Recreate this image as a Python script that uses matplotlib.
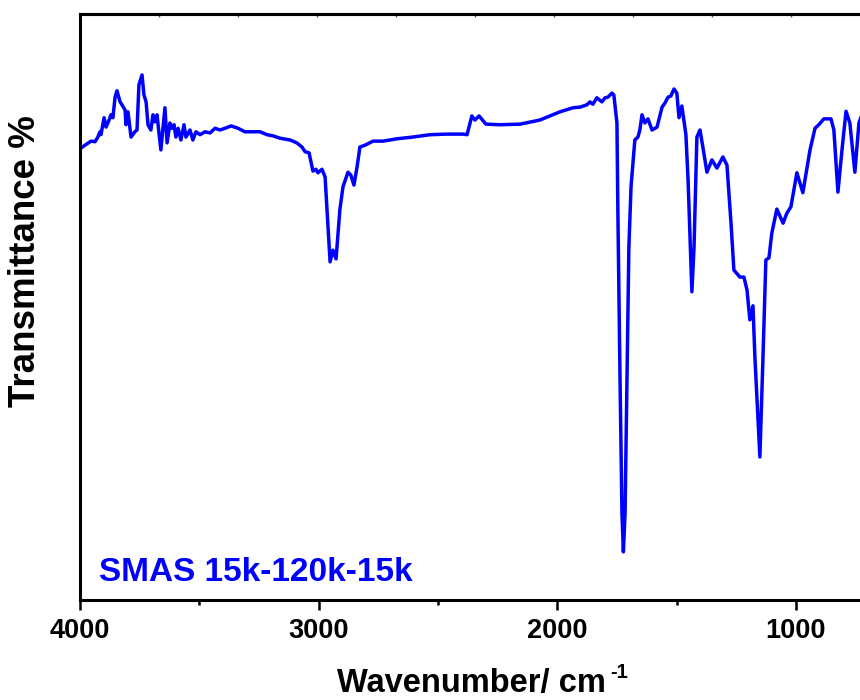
import matplotlib
matplotlib.use("Agg")
import matplotlib.pyplot as plt

plt.rcParams['font.family'] = ['Liberation Sans', 'DejaVu Sans']
plt.rcParams['font.weight'] = 'bold'

# FTIR spectrum (wavenumber in cm-1, transmittance in a.u.)
wavenumber = [
    3997, 3979, 3954, 3937, 3925, 3916, 3912, 3899, 3891, 3878, 3870, 3862, 3853, 3845,
    3832, 3824, 3811, 3807, 3799, 3786, 3770, 3761, 3753, 3740, 3732, 3723, 3715, 3703,
    3694, 3686, 3677, 3669, 3661, 3644, 3635, 3623, 3615, 3606, 3598, 3589, 3577, 3564,
    3556, 3539, 3527, 3514, 3497, 3476, 3455, 3434, 3413, 3392, 3367, 3338, 3309, 3275,
    3246, 3216, 3191, 3162, 3120, 3091, 3070, 3057, 3040, 3024, 3011, 3003, 2986, 2973,
    2965, 2952, 2940, 2927, 2911, 2898, 2877, 2865, 2852, 2839, 2827, 2806, 2772, 2730,
    2672, 2605, 2533, 2462, 2395, 2378, 2358, 2345, 2328, 2299, 2240, 2156, 2073, 2031,
    1989, 1934, 1905, 1876, 1863, 1851, 1834, 1813, 1800, 1788, 1771, 1763, 1750, 1746,
    1737, 1729, 1723, 1716, 1708, 1700, 1691, 1683, 1675, 1662, 1654, 1645, 1633, 1620,
    1603, 1582, 1561, 1549, 1536, 1524, 1511, 1499, 1490, 1478, 1461, 1452, 1436, 1427,
    1415, 1402, 1390, 1373, 1352, 1331, 1306, 1289, 1272, 1260, 1235, 1218, 1205, 1193,
    1180, 1172, 1151, 1138, 1126, 1113, 1101, 1080, 1054, 1038, 1021, 996, 971, 941,
    920, 904, 883, 853, 841, 824, 807, 790, 774, 753, 736, 716,
]
transmittance = [
    77.1, 77.6, 78.3, 78.2, 79.0, 79.9, 79.4, 82.3, 80.7, 81.9, 82.8, 82.3, 85.8, 86.9,
    85.0, 84.5, 83.6, 81.1, 83.3, 79.0, 79.9, 80.2, 87.9, 89.6, 86.2, 85.0, 81.1, 80.2,
    82.8, 81.6, 82.8, 79.7, 76.8, 84.0, 78.0, 81.4, 80.5, 81.1, 79.0, 80.5, 78.5, 81.1,
    79.0, 80.2, 78.5, 79.9, 79.4, 79.9, 79.7, 80.5, 80.2, 80.5, 80.9, 80.5, 79.9, 79.9,
    79.9, 79.4, 79.2, 78.8, 78.5, 78.0, 77.3, 76.5, 76.3, 73.2, 73.5, 72.9, 73.5, 72.2,
    66.6, 57.7, 59.7, 58.2, 66.6, 70.5, 73.0, 72.5, 70.8, 73.9, 77.3, 77.6, 78.3, 78.3,
    78.7, 79.0, 79.4, 79.5, 79.5, 79.4, 82.6, 81.9, 82.6, 81.2, 81.1, 81.2, 81.9, 82.6,
    83.3, 84.0, 84.1, 84.5, 85.0, 84.6, 85.7, 85.0, 85.7, 85.8, 86.5, 86.2, 81.4, 66.0,
    37.5, 14.8, 8.2, 14.8, 37.5, 60.2, 70.5, 74.6, 78.5, 79.0, 80.2, 82.8, 81.4, 82.1,
    80.2, 80.7, 84.1, 84.8, 85.8, 86.0, 87.2, 86.5, 82.3, 84.3, 79.4, 71.7, 52.6, 60.2,
    79.0, 80.2, 77.3, 73.0, 75.1, 73.7, 75.6, 74.2, 64.3, 56.3, 55.1, 55.1, 52.9, 47.8,
    50.2, 41.5, 24.4, 41.5, 58.0, 58.4, 62.6, 66.7, 64.3, 66.0, 67.1, 72.9, 69.5, 76.8,
    80.5, 81.1, 82.1, 82.1, 80.2, 69.6, 76.8, 83.4, 81.4, 73.0, 81.4, 83.6,
]

sample_label = 'SMAS 15k-120k-15k'

fig = plt.figure(figsize=(8.6, 7), dpi=100)
ax = fig.add_axes([0.093, 0.143, 0.999, 0.837])

ax.plot(wavenumber, transmittance, color='#0000FF', linewidth=2.5,
        solid_joinstyle='round')

ax.set_xlim(4000, 400)
ax.set_ylim(0, 100)
ax.set_xticks([4000, 3000, 2000, 1000])
ax.set_xticks([3500, 2500, 1500], minor=True)
ax.set_yticks([])
ax.tick_params(axis='x', which='major', direction='out', length=7, width=1.8,
               labelsize=19.5, pad=6)
ax.tick_params(axis='x', which='minor', direction='out', length=3.5, width=1.8)
for s in ax.spines.values():
    s.set_linewidth(2.2)

ax.set_xlabel('Wavenumber/ cm', fontsize=23.5, fontweight='bold')
ax.set_ylabel('Transmittance %', fontsize=26.5, fontweight='bold')
ax.xaxis.set_label_coords(0.456, -0.117)
ax.yaxis.set_label_coords(-0.043, 0.578)
# superscript -1 with a plain hyphen, as in the original
ax.annotate('-1', xy=(1, 1), xycoords=ax.xaxis.label, xytext=(3, 4),
            textcoords='offset points', fontsize=14.5, fontweight='bold',
            ha='left', va='top')

ax.text(0.022, 0.032, sample_label, transform=ax.transAxes, color='#0000FF',
        fontsize=24, fontweight='bold', va='baseline', ha='left')

# mirrored top ticks
top = ax.twiny()
top.set_xlim(0, 10.87)
top.set_xticks(range(1, 11))
top.tick_params(axis='x', direction='in', length=2, width=1, colors='#555555',
                labeltop=False)
top.spines['top'].set_linewidth(2.2)

fig.savefig('out.png', dpi=100)
